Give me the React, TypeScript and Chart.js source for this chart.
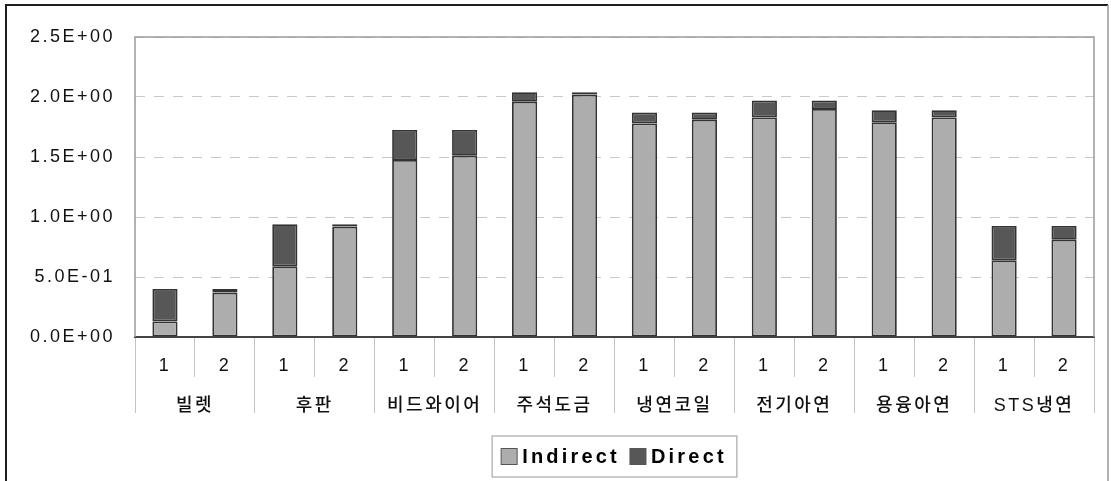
import React, { useEffect, useRef } from 'react';
import { Chart, registerables } from 'chart.js';

Chart.register(...registerables);

const categories = ['1', '2', '1', '2', '1', '2', '1', '2', '1', '2', '1', '2', '1', '2', '1', '2'];
const groups = ['빌렛', '후판', '비드와이어', '주석도금', '냉연코일', '전기아연', '용융아연', 'STS냉연'];
const indirect = [0.13, 0.37, 0.59, 0.92, 1.475, 1.51, 1.96, 2.02, 1.78, 1.81, 1.83, 1.9, 1.79, 1.83, 0.64, 0.81];
const direct = [0.27, 0.03, 0.35, 0.02, 0.25, 0.215, 0.08, 0.02, 0.09, 0.06, 0.14, 0.07, 0.1, 0.06, 0.285, 0.115];
const yTickLabels = ['0.0E+00', '5.0E-01', '1.0E+00', '1.5E+00', '2.0E+00', '2.5E+00'];
const seriesNames = ['Indirect', 'Direct'];

const FONT = 'Arial, "Liberation Sans", "Noto Sans CJK KR", sans-serif';
const SPACING = '2.5px';

const spacingPlugin = {
  id: 'spacing',
  beforeLayout(chart: any) {
    chart.ctx.letterSpacing = SPACING;
  },
  beforeDraw(chart: any) {
    chart.ctx.letterSpacing = SPACING;
  },
};

const framePlugin = {
  id: 'frames',
  beforeDatasetsDraw(chart: any) {
    const { ctx, chartArea } = chart;
    const { left, top, right, bottom } = chartArea;
    ctx.save();
    ctx.strokeStyle = '#9a9a9a';
    ctx.lineWidth = 1.5;
    ctx.beginPath();
    ctx.moveTo(left, bottom);
    ctx.lineTo(left, top);
    ctx.lineTo(right, top);
    ctx.lineTo(right, bottom);
    ctx.stroke();
    ctx.restore();
  },
  afterDraw(chart: any) {
    const { ctx, chartArea } = chart;
    ctx.save();
    // outer frame
    ctx.strokeStyle = '#1e1e1e';
    ctx.lineWidth = 2;
    ctx.beginPath();
    ctx.moveTo(6, 495);
    ctx.lineTo(6, 5);
    ctx.lineTo(1108, 5);
    ctx.stroke();
    ctx.strokeStyle = '#9a9a9a';
    ctx.lineWidth = 1.5;
    ctx.beginPath();
    ctx.moveTo(1108, 5);
    ctx.lineTo(1108, 495);
    ctx.stroke();

    // legend
    ctx.letterSpacing = '3.2px';
    ctx.font = `bold 20px ${FONT}`;
    const ds = chart.data.datasets;
    const sq = 16;
    const gapSq = 5;
    const gapItem = 10;
    const padL = 9;
    const padR = 10;
    const widths = ds.map((d: any) => ctx.measureText(d.label).width);
    let total = padL + padR;
    widths.forEach((w: number, i: number) => {
      total += sq + gapSq + w + (i < widths.length - 1 ? gapItem : 0);
    });
    const cx = (chartArea.left + chartArea.right) / 2;
    const boxTop = chartArea.bottom + 99;
    const boxH = 41;
    const x0 = cx - total / 2;
    ctx.fillStyle = '#ffffff';
    ctx.fillRect(x0, boxTop, total, boxH);
    ctx.strokeStyle = '#a8a8a8';
    ctx.lineWidth = 1.2;
    ctx.strokeRect(x0, boxTop, total, boxH);
    let x = x0 + padL;
    const cy = boxTop + boxH / 2;
    ds.forEach((d: any, i: number) => {
      ctx.fillStyle = d.backgroundColor;
      ctx.fillRect(x, cy - sq / 2, sq, sq);
      ctx.strokeStyle = '#555';
      ctx.lineWidth = 1;
      ctx.strokeRect(x, cy - sq / 2, sq, sq);
      x += sq + gapSq;
      ctx.fillStyle = '#000';
      ctx.textBaseline = 'middle';
      ctx.textAlign = 'left';
      ctx.fillText(d.label, x, cy + 1);
      x += widths[i] + gapItem;
    });
    ctx.restore();
  },
};

export default function App() {
  const canvasRef = useRef<HTMLCanvasElement | null>(null);

  useEffect(() => {
    document.body.style.margin = '0';
    const canvas = canvasRef.current;
    if (!canvas) return;
    const chart = new Chart(canvas, {
      type: 'bar',
      data: {
        labels: categories,
        datasets: [
          {
            label: seriesNames[0],
            data: indirect,
            backgroundColor: '#adadad',
            borderColor: '#333333',
            borderWidth: 1.8,
            borderSkipped: false,
            xAxisID: 'x',
            yAxisID: 'y',
          },
          {
            label: seriesNames[1],
            data: direct,
            backgroundColor: '#575757',
            borderColor: '#333333',
            borderWidth: 1.8,
            borderSkipped: false,
            xAxisID: 'x',
            yAxisID: 'y',
          },
        ],
      },
      options: {
        responsive: false,
        animation: false,
        devicePixelRatio: 1,
        layout: { padding: { top: 37, right: 17, bottom: 68, left: 0 } },
        datasets: {
          bar: { categoryPercentage: 1, barPercentage: 0.42 },
        },
        plugins: {
          legend: { display: false },
          tooltip: { enabled: false },
        },
        scales: {
          x: {
            type: 'category',
            stacked: true,
            position: 'bottom',
            weight: 0,
            offset: true,
            afterFit: (s: any) => {
              s.height = 40;
            },
            grid: {
              offset: true,
              drawOnChartArea: false,
              drawTicks: true,
              tickLength: 40,
              tickColor: '#c4c4c4',
              tickWidth: 1,
              color: '#c4c4c4',
            },
            border: { display: true, color: '#444', width: 2 },
            ticks: {
              padding: -22,
              maxRotation: 0,
              autoSkip: false,
              color: '#111',
              font: { family: FONT, size: 18 },
            },
          },
          x2: {
            type: 'category',
            labels: groups,
            position: 'bottom',
            weight: 1,
            offset: true,
            afterFit: (s: any) => {
              s.height = 36;
            },
            grid: {
              offset: true,
              drawOnChartArea: false,
              drawTicks: true,
              tickLength: 36,
              tickColor: '#c4c4c4',
              tickWidth: 1,
              color: '#c4c4c4',
            },
            border: { display: false },
            ticks: {
              padding: -18,
              maxRotation: 0,
              autoSkip: false,
              color: '#111',
              font: { family: FONT, size: 18, weight: '500' },
            },
          },
          y: {
            stacked: true,
            min: 0,
            max: 2.5,
            afterFit: (s: any) => {
              s.width = 135;
            },
            grid: {
              color: '#c8c8c8',
              lineWidth: 1,
              drawTicks: false,
            },
            border: { display: false, dash: [10, 9] },
            ticks: {
              stepSize: 0.5,
              padding: 20,
              color: '#111',
              font: { family: FONT, size: 18 },
              callback: (_v: any, i: number) => yTickLabels[i],
            },
          },
        },
      },
      plugins: [spacingPlugin, framePlugin],
    } as any);
    return () => chart.destroy();
  }, []);

  return (
    <div style={{ position: 'fixed', left: 0, top: 0, width: 1111, height: 481, background: '#fff' }}>
      <canvas ref={canvasRef} width={1111} height={481} style={{ display: 'block' }} />
    </div>
  );
}
